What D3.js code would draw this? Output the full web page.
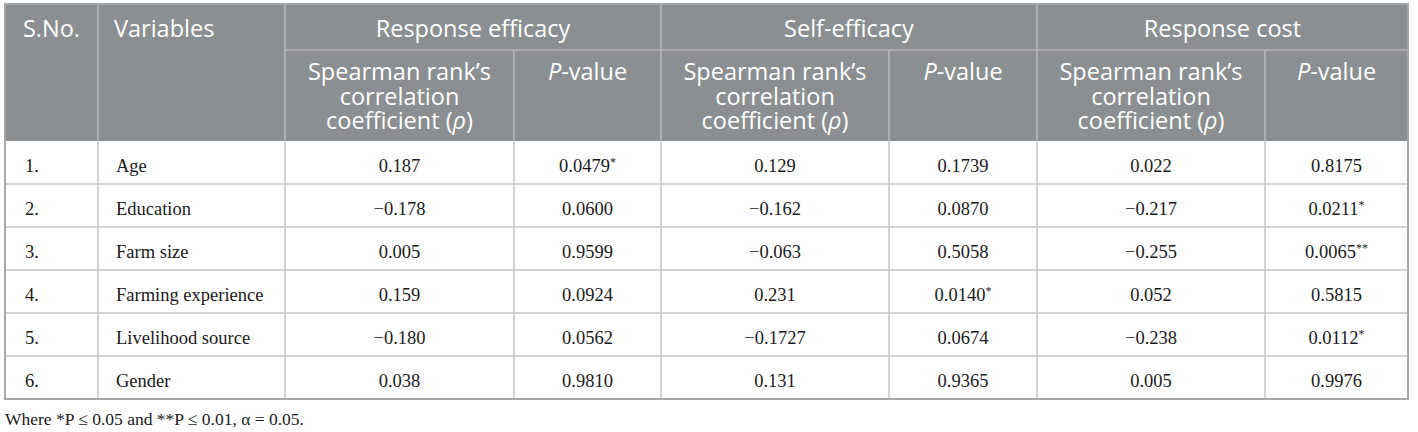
<!DOCTYPE html>
<meta charset="utf-8">
<script src="https://d3js.org/d3.v7.min.js"></script>
<style>
  body { margin: 0; background: #fff; }
</style>
<div id="table"></div>
<script>
// table data
const sno = ["1.", "2.", "3.", "4.", "5.", "6."];
const variables = ["Age", "Education", "Farm size", "Farming experience", "Livelihood source", "Gender"];
const groups = ["Response efficacy", "Self-efficacy", "Response cost"];
const reRho = ["0.187", "\u22120.178", "0.005", "0.159", "\u22120.180", "0.038"];
const reP = ["0.0479*", "0.0600", "0.9599", "0.0924", "0.0562", "0.9810"];
const seRho = ["0.129", "\u22120.162", "\u22120.063", "0.231", "\u22120.1727", "0.131"];
const seP = ["0.1739", "0.0870", "0.5058", "0.0140*", "0.0674", "0.9365"];
const rcRho = ["0.022", "\u22120.217", "\u22120.255", "0.052", "\u22120.238", "0.005"];
const rcP = ["0.8175", "0.0211*", "0.0065**", "0.5815", "0.0112*", "0.9976"];
const note = "Where *P \u2264 0.05 and **P \u2264 0.01, \u03b1 = 0.05.";

const W = 1418, H = 432;
const colEdges = [5, 98, 285, 514, 661, 889, 1037, 1265, 1408];
const tableTop = 4, h1 = 50, h2 = 141, bodyBottom = 399;
const headFill = "#8c8f91", lineCol = "#c4c6c7", borderCol = "#a5a8aa";
const sans = "'Open Sans', Lato, sans-serif";
const serif = "'Liberation Serif', 'DejaVu Serif', serif";

const svg = d3.select("#table").append("svg")
  .attr("width", W).attr("height", H);

const y = d3.scaleBand().domain(variables).range([h2, bodyBottom]);

// header background
svg.append("rect").attr("x", colEdges[0]).attr("y", tableTop)
  .attr("width", colEdges[8] - colEdges[0]).attr("height", h2 - tableTop)
  .attr("fill", headFill);

// header lines
svg.append("line").attr("x1", colEdges[2]).attr("x2", colEdges[8])
  .attr("y1", h1).attr("y2", h1).attr("stroke", lineCol).attr("stroke-width", 1.2);
colEdges.slice(1, 8).forEach((x, i) => {
  svg.append("line").attr("x1", x).attr("x2", x)
    .attr("y1", (i === 0 || i === 1 || i === 3 || i === 5) ? tableTop : h1).attr("y2", h2)
    .attr("stroke", lineCol).attr("stroke-width", 1.2);
});

// header text
const head = svg.append("g").attr("fill", "#fff")
  .style("font-family", sans).style("font-size", "23.5px");
head.append("text").attr("x", (colEdges[0] + colEdges[1]) / 2).attr("y", 37)
  .attr("text-anchor", "middle").text("S.No.");
head.append("text").attr("x", colEdges[1] + 16).attr("y", 37).text("Variables");
groups.forEach((g, i) => {
  head.append("text").attr("x", (colEdges[2 + 2 * i] + colEdges[4 + 2 * i]) / 2).attr("y", 37)
    .attr("text-anchor", "middle").text(g);
  const rx = (colEdges[2 + 2 * i] + colEdges[3 + 2 * i]) / 2;
  const t = head.append("text").attr("text-anchor", "middle");
  t.append("tspan").attr("x", rx).attr("y", 80).text("Spearman rank\u2019s");
  t.append("tspan").attr("x", rx).attr("y", 104.5).text("correlation");
  t.append("tspan").attr("x", rx).attr("y", 129).text("coefficient (");
  t.append("tspan").style("font-style", "italic").text("\u03c1");
  t.append("tspan").text(")");
  const px = (colEdges[3 + 2 * i] + colEdges[4 + 2 * i]) / 2;
  const p = head.append("text").attr("x", px).attr("y", 80).attr("text-anchor", "middle");
  p.append("tspan").style("font-style", "italic").text("P");
  p.append("tspan").text("-value");
});

// body lines
variables.forEach(v => {
  svg.append("line").attr("x1", colEdges[0]).attr("x2", colEdges[8])
    .attr("y1", y(v) + y.bandwidth()).attr("y2", y(v) + y.bandwidth())
    .attr("stroke", lineCol).attr("stroke-width", 1.5);
});
colEdges.slice(1, 8).forEach(x => {
  svg.append("line").attr("x1", x).attr("x2", x).attr("y1", h2).attr("y2", bodyBottom)
    .attr("stroke", lineCol).attr("stroke-width", 1.5);
});
// outer border
svg.append("rect").attr("x", colEdges[0]).attr("y", tableTop)
  .attr("width", colEdges[8] - colEdges[0]).attr("height", bodyBottom - tableTop)
  .attr("fill", "none").attr("stroke", borderCol).attr("stroke-width", 2);

// body text
const body = svg.append("g").attr("fill", "#1a1a1a")
  .style("font-family", serif).style("font-size", "18.5px");
function addCell(txt, x, yy, anchor) {
  const m = txt.match(/^([^*]*)(\**)$/);
  const t = body.append("text").attr("x", x).attr("y", yy).attr("text-anchor", anchor);
  t.append("tspan").text(m[1]);
  if (m[2]) t.append("tspan").attr("dy", -6).style("font-size", "12px").text(m[2]);
}
const cols = [reRho, reP, seRho, seP, rcRho, rcP];
variables.forEach((v, r) => {
  const yy = y(v) + y.bandwidth() / 2 + 9;
  addCell(sno[r], colEdges[0] + 20, yy, "start");
  addCell(v, colEdges[1] + 18, yy, "start");
  cols.forEach((c, j) => {
    addCell(c[r], (colEdges[2 + j] + colEdges[3 + j]) / 2, yy, "middle");
  });
});

// footnote
svg.append("text").attr("x", colEdges[0]).attr("y", 425)
  .style("font-family", serif).style("font-size", "17.5px").attr("fill", "#1a1a1a")
  .text(note);
</script>
